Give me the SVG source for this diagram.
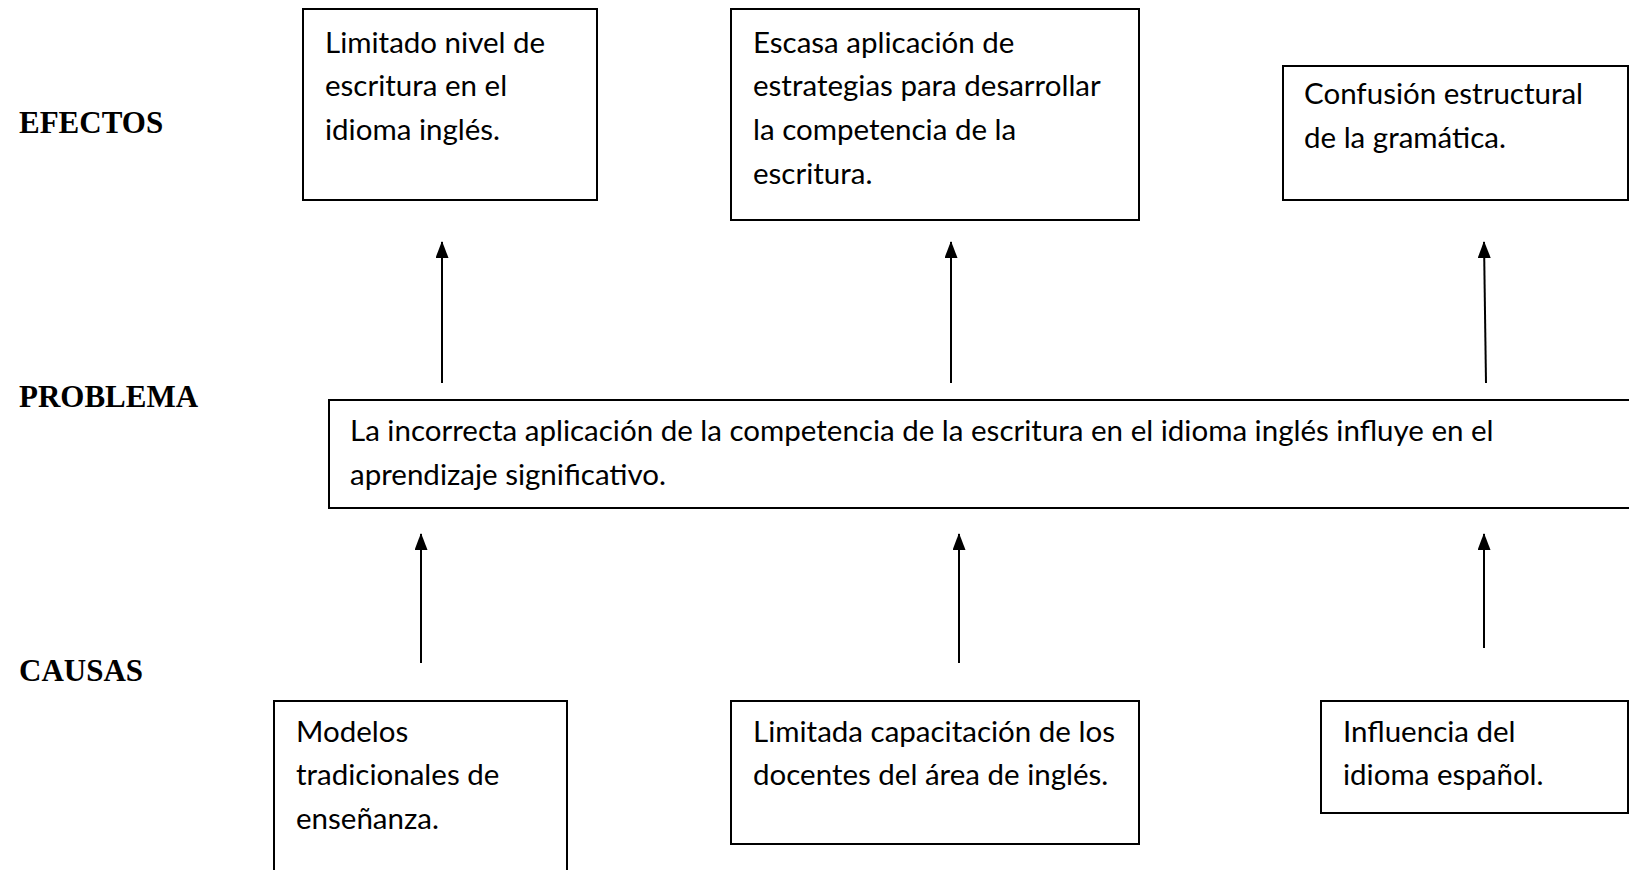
<svg xmlns="http://www.w3.org/2000/svg" width="1629" height="870" viewBox="0 0 1629 870">
<style>
.lbl{font-family:"Liberation Serif","Times New Roman",serif;font-weight:bold;font-size:31px;fill:#000}
.box{fill:#fff;stroke:#000;stroke-width:2}
.t{font-family:Lato,"Open Sans",sans-serif;font-size:29.5px;fill:#000}
.arr{stroke:#000;stroke-width:2;fill:none;marker-end:url(#ah)}
</style>
<defs>
<marker id="ah" viewBox="0 0 17 13" refX="16" refY="6.5" markerWidth="17" markerHeight="13" markerUnits="userSpaceOnUse" orient="auto">
<path d="M0,0 L17,6.5 L0,13 Z" fill="#000"/>
</marker>
</defs>
<rect width="1629" height="870" fill="#fff"/>
<g id="labels">
<text class="lbl" x="19" y="133">EFECTOS</text>
<text class="lbl" x="19" y="407">PROBLEMA</text>
<text class="lbl" x="19" y="681">CAUSAS</text>
</g>
<g id="efecto1">
<rect class="box" x="303" y="9" width="294" height="191"/>
<text class="t" x="325" y="53">Limitado nivel de</text>
<text class="t" x="325" y="96">escritura en el</text>
<text class="t" x="325" y="140">idioma inglés.</text>
</g>
<g id="efecto2">
<rect class="box" x="731" y="9" width="408" height="211"/>
<text class="t" x="753" y="53">Escasa aplicación de</text>
<text class="t" x="753" y="96">estrategias para desarrollar</text>
<text class="t" x="753" y="140">la competencia de la</text>
<text class="t" x="753" y="184">escritura.</text>
</g>
<g id="efecto3">
<rect class="box" x="1283" y="66" width="345" height="134"/>
<text class="t" x="1304" y="104">Confusión estructural</text>
<text class="t" x="1304" y="148">de la gramática.</text>
</g>
<g id="problema">
<rect class="box" x="329" y="400" width="1302" height="108"/>
<text class="t" x="350" y="441">La incorrecta aplicación de la competencia de la escritura en el idioma inglés influye en el</text>
<text class="t" x="350" y="485">aprendizaje significativo.</text>
</g>
<g id="causa1">
<rect class="box" x="274" y="701" width="293" height="180"/>
<text class="t" x="296" y="742">Modelos</text>
<text class="t" x="296" y="785">tradicionales de</text>
<text class="t" x="296" y="829">enseñanza.</text>
</g>
<g id="causa2">
<rect class="box" x="731" y="701" width="408" height="143"/>
<text class="t" x="753" y="742">Limitada capacitación de los</text>
<text class="t" x="753" y="785">docentes del área de inglés.</text>
</g>
<g id="causa3">
<rect class="box" x="1321" y="701" width="307" height="112"/>
<text class="t" x="1343" y="742">Influencia del</text>
<text class="t" x="1343" y="785">idioma español.</text>
</g>
<g id="connectors">
<line class="arr" x1="442" y1="383" x2="442" y2="242"/>
<line class="arr" x1="951" y1="383" x2="951" y2="242"/>
<line class="arr" x1="1486" y1="383" x2="1484" y2="242"/>
<line class="arr" x1="421" y1="663" x2="421" y2="534"/>
<line class="arr" x1="959" y1="663" x2="959" y2="534"/>
<line class="arr" x1="1484" y1="648" x2="1484" y2="534"/>
</g>
</svg>
